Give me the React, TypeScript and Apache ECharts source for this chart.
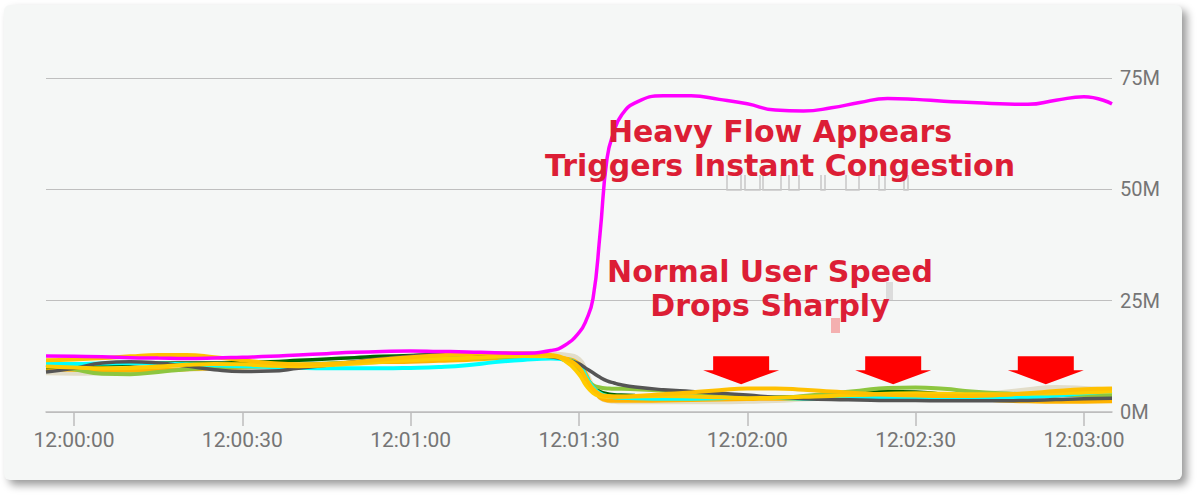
import React, { useEffect, useRef } from "react";
import * as echarts from "echarts";

// seconds after 12:00:00
const times = [-5, 0, 5, 10, 15, 20, 25, 30, 35, 40, 45, 50, 55, 60, 65, 70, 75, 80, 85, 87.5, 90, 91.25, 92.5, 93.75, 95, 96.25, 97.5, 100, 105, 110, 115, 120, 125, 130, 135, 140, 145, 150, 155, 160, 165, 170, 175, 180, 185];

const tickSeconds = [0, 30, 60, 90, 120, 150, 180];

// values in M
const heavyFlow = [12.6, 12.5, 12.4, 12.2, 12.1, 12.0, 12.1, 12.3, 12.5, 12.8, 13.1, 13.4, 13.6, 13.7, 13.6, 13.5, 13.3, 13.2, 13.8, 15.0, 17.8, 20.5, 25.5, 40, 57, 63, 66.5, 69.4, 71, 71, 70.2, 69.2, 67.8, 67.6, 68.3, 69.5, 70.4, 70.2, 69.8, 69.5, 69.2, 69.1, 70, 70.8, 69.2];
const userDarkGrey = [9.0, 9.8, 11.0, 11.3, 11.0, 10.3, 9.5, 9.1, 9.2, 9.8, 10.5, 11.3, 12.0, 12.6, 13.0, 13.2, 13.2, 12.9, 12.4, 11.8, 10.8, 9.8, 8.8, 7.8, 7.0, 6.5, 6.1, 5.6, 5.0, 4.6, 4.2, 3.8, 3.3, 3.0, 2.8, 2.7, 2.6, 2.6, 2.5, 2.5, 2.5, 2.6, 2.8, 3.0, 3.1];
const userCyan = [10.8, 10.8, 10.9, 11.0, 10.9, 10.7, 10.5, 10.3, 10.1, 9.9, 9.8, 9.8, 9.8, 9.9, 10.1, 10.5, 11.2, 11.7, 12.0, 11.8, 10.5, 8.0, 5.5, 4.2, 3.6, 3.3, 3.2, 3.1, 3.0, 3.0, 3.1, 3.4, 3.2, 3.0, 3.0, 3.0, 3.1, 3.1, 3.0, 3.0, 3.1, 3.3, 3.7, 4.2, 4.6];
const userAmberA = [11.6, 11.8, 12.1, 12.5, 12.8, 12.8, 12.3, 11.6, 11.0, 10.7, 10.8, 11.2, 11.8, 12.3, 12.7, 13.0, 13.2, 13.2, 12.8, 12.0, 10.0, 7.5, 5.2, 4.0, 3.6, 3.5, 3.5, 3.6, 4.0, 4.4, 4.9, 5.3, 5.3, 5.0, 4.6, 4.2, 3.9, 3.7, 3.6, 3.6, 3.8, 4.2, 4.7, 5.1, 5.3];
const userAmberB = [9.6, 9.5, 9.4, 9.3, 9.4, 9.6, 9.8, 10.0, 10.3, 10.5, 10.8, 11.0, 11.2, 11.3, 11.5, 11.7, 12.0, 12.2, 12.3, 12.0, 10.8, 8.5, 5.0, 3.2, 2.6, 2.5, 2.5, 2.5, 2.6, 2.7, 2.8, 2.9, 3.0, 3.0, 3.1, 3.2, 3.3, 3.4, 3.3, 3.0, 2.6, 2.4, 2.3, 2.3, 2.4];
const userAmberC = [10.2, 10.0, 9.8, 9.9, 10.2, 10.6, 10.8, 10.7, 10.4, 10.3, 10.5, 10.9, 11.3, 11.6, 11.9, 12.1, 12.4, 12.6, 12.5, 11.5, 8.5, 6.0, 4.3, 3.6, 3.4, 3.4, 3.4, 3.5, 3.6, 3.5, 3.3, 3.1, 3.2, 3.4, 3.6, 3.9, 4.1, 4.2, 4.1, 4.0, 4.0, 4.1, 4.2, 4.4, 4.6];
const userLime = [10.6, 9.6, 8.6, 8.5, 9.0, 9.6, 10.0, 10.2, 10.4, 10.6, 10.9, 11.2, 11.6, 11.9, 12.1, 12.2, 12.3, 12.4, 12.3, 11.6, 9.5, 7.5, 6.0, 5.5, 5.3, 5.2, 5.2, 5.1, 4.8, 4.4, 3.9, 3.3, 3.2, 3.6, 4.2, 4.8, 5.4, 5.5, 5.2, 4.6, 4.2, 4.0, 3.9, 3.8, 3.8];
const userDarkGreen = [10.0, 10.2, 10.5, 10.8, 11.0, 11.0, 11.0, 11.1, 11.3, 11.6, 11.9, 12.2, 12.5, 12.7, 12.8, 12.8, 12.7, 12.6, 12.3, 11.8, 10.0, 7.8, 5.8, 4.6, 4.1, 3.9, 3.8, 3.7, 3.6, 3.5, 3.4, 3.3, 3.3, 3.4, 3.7, 4.2, 4.6, 4.5, 4.0, 3.6, 3.4, 3.5, 3.7, 3.8, 3.9];
const userBeige = [8.8, 8.7, 8.8, 9.0, 9.3, 9.6, 9.8, 9.9, 10.0, 10.2, 10.5, 10.9, 11.4, 11.9, 12.3, 12.6, 12.9, 13.0, 13.0, 12.8, 11.8, 9.0, 5.5, 3.3, 2.6, 2.4, 2.3, 2.3, 2.3, 2.3, 2.3, 2.4, 2.6, 2.9, 3.2, 3.5, 3.7, 3.8, 3.8, 3.9, 4.3, 5.0, 5.5, 5.3, 4.9];

// arrow anchors: [seconds, M]
const arrowPoints = [[118.9, 9.4], [146, 9.4], [173.2, 9.4]];

const annotationTop = "Heavy Flow Appears\nTriggers Instant Congestion";
const annotationBottom = "Normal User Speed\nDrops Sharply";

const lineDefs: [string, number[], string, number][] = [
  ["beige", userBeige, "#e2ddc9", 5],
  ["amberB", userAmberB, "#ffb300", 4],
  ["darkGreen", userDarkGreen, "#006400", 3.5],
  ["lime", userLime, "#8dc63f", 4],
  ["cyan", userCyan, "#00ffff", 4],
  ["darkGrey", userDarkGrey, "#555555", 3.5],
  ["amberC", userAmberC, "#ffcc00", 4],
  ["amberA", userAmberA, "#ffc000", 4],
  ["heavy", heavyFlow, "#ff00ff", 3.5],
];

const pad = (n: number) => (n < 10 ? "0" + n : "" + n);
const fmtTime = (s: number) => {
  const m = Math.floor(s / 60);
  const sec = Math.round(s - m * 60);
  return "12:" + pad(m) + ":" + pad(sec);
};

const uShapes = [[727, 741], [745, 760], [763, 781], [789, 799], [821, 825], [846, 859], [879, 885], [904, 908]];

export default function App() {
  const ref = useRef<HTMLDivElement>(null);
  useEffect(() => {
    if (!ref.current) return;
    const chart = echarts.init(ref.current, undefined, { renderer: "svg" });
    const arrowPath = "path://M10 0 H66 V14 H76 L38 28 L0 14 H10 Z";
    const series: any[] = lineDefs.map(([name, vals, color, w]) => ({
      name,
      type: "line",
      data: times.map((t, i) => [t, vals[i] * 1e6]),
      smooth: 0.5,
      showSymbol: false,
      symbol: "none",
      lineStyle: { color, width: w },
      z: 3,
    }));
    series.push({
      name: "arrows",
      type: "scatter",
      data: [],
      markPoint: {
        symbol: arrowPath,
        symbolSize: [76, 28],
        silent: true,
        itemStyle: { color: "#ff0000" },
        label: { show: false },
        data: arrowPoints.map((p) => ({ coord: [p[0], p[1] * 1e6] })),
      },
      z: 5,
    });
    const ox = 4, oy = 5;
    const graphics: any[] = uShapes.map(([a, b]) => ({
      type: "polyline",
      shape: { points: [[a - ox, 175 - oy], [a - ox, 190 - oy], [b - ox, 190 - oy], [b - ox, 175 - oy]] },
      style: { stroke: "#c8c8c8", lineWidth: 1.5, fill: null },
      z: 1,
    }));
    graphics.push(
      { type: "rect", shape: { x: 831 - ox, y: 318 - oy, width: 9, height: 15 }, style: { fill: "#f4b0b0" }, z: 1 },
      { type: "rect", shape: { x: 886 - ox, y: 282 - oy, width: 7, height: 18 }, style: { fill: "#dcdcdc" }, z: 1 },
      {
        type: "text",
        x: 776,
        y: 143,
        style: {
          text: annotationTop,
          font: 'bold 30px "DejaVu Sans"',
          fill: "#dc1e35",
          align: "center",
          verticalAlign: "middle",
          lineHeight: 34,
        },
        z: 10,
      },
      {
        type: "text",
        x: 766,
        y: 283,
        style: {
          text: annotationBottom,
          font: 'bold 30px "DejaVu Sans"',
          fill: "#dc1e35",
          align: "center",
          verticalAlign: "middle",
          lineHeight: 34,
        },
        z: 10,
      }
    );
    chart.setOption({
      animation: false,
      backgroundColor: "transparent",
      grid: { left: 42, right: 70, top: 73, bottom: 68 },
      xAxis: {
        type: "value",
        min: -5,
        max: 185,
        splitLine: { show: false },
        axisLine: { show: true, lineStyle: { color: "#bdbdbd", width: 1.5 } },
        axisTick: { show: true, length: 14, lineStyle: { color: "#bdbdbd", width: 1.5 }, customValues: tickSeconds },
        axisLabel: {
          customValues: tickSeconds,
          formatter: (v: number) => fmtTime(v),
          color: "#757575",
          fontSize: 21,
          fontFamily: "Roboto",
          margin: 17,
        },
      },
      yAxis: {
        type: "value",
        position: "right",
        min: 0,
        max: 75e6,
        interval: 25e6,
        axisLine: { show: false },
        axisTick: { show: false },
        splitLine: { show: true, lineStyle: { color: "#bfbfbf", width: 1.2 } },
        axisLabel: {
          formatter: (v: number) => Math.round(v / 1e6) + "M",
          color: "#757575",
          fontSize: 20,
          fontFamily: "Roboto",
          margin: 8,
        },
      },
      graphic: graphics,
      series,
    });
    return () => chart.dispose();
  }, []);
  return (
    <div style={{ position: "fixed", left: 0, top: 0, width: 1200, height: 498, background: "#ffffff" }}>
      <div
        style={{
          position: "absolute",
          left: 4,
          top: 5,
          width: 1178,
          height: 475,
          background: "#f5f7f6",
          borderRadius: 6,
          boxShadow: "5px 5px 8px rgba(0,0,0,0.4)",
        }}
      >
        <div ref={ref} style={{ width: 1178, height: 475 }} />
      </div>
    </div>
  );
}
